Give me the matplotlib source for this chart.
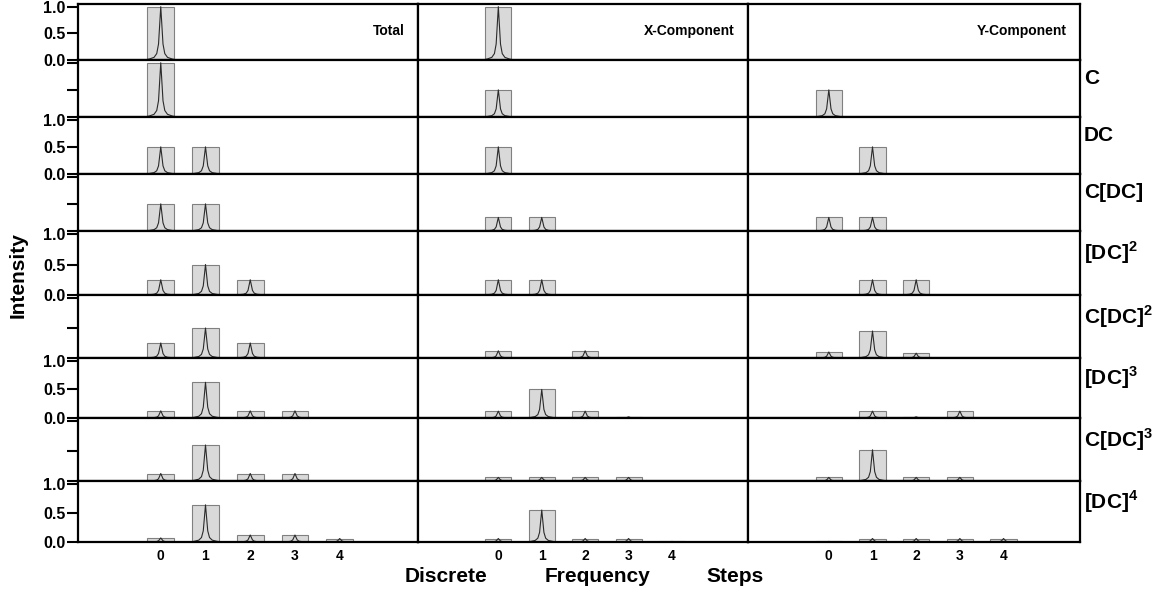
import matplotlib.pyplot as plt
import numpy as np

plt.rcParams['font.family'] = ['Liberation Sans', 'DejaVu Sans']
plt.rcParams['mathtext.fontset'] = 'custom'
plt.rcParams['mathtext.rm'] = 'Liberation Sans'
plt.rcParams['mathtext.bf'] = 'Liberation Sans:bold'

# ---- data ----
column_titles = ["Total", "X-Component", "Y-Component"]
row_labels = ["", "C", "DC", "C[DC]",
              r"[DC]$^\mathbf{2}$", r"C[DC]$^\mathbf{2}$",
              r"[DC]$^\mathbf{3}$", r"C[DC]$^\mathbf{3}$", r"[DC]$^\mathbf{4}$"]
steps = [0, 1, 2, 3, 4]

# intensity at each discrete frequency step (index = step)
total = [
    [1.0],
    [1.0],
    [0.5, 0.5],
    [0.5, 0.5],
    [0.25, 0.5, 0.25],
    [0.25, 0.5, 0.25],
    [0.125, 0.625, 0.125, 0.125],
    [0.125, 0.6, 0.125, 0.125],
    [0.07, 0.64, 0.12, 0.12, 0.06],
]
x_component = [
    [1.0],
    [0.5],
    [0.5],
    [0.25, 0.25],
    [0.25, 0.25],
    [0.12, 0.0, 0.12],
    [0.12, 0.5, 0.12, 0.02],
    [0.06, 0.06, 0.06, 0.06],
    [0.06, 0.55, 0.06, 0.06, 0.01],
]
y_component = [
    [],
    [0.5],
    [0.0, 0.5],
    [0.25, 0.25],
    [0.0, 0.25, 0.25],
    [0.1, 0.45, 0.08],
    [0.0, 0.12, 0.02, 0.12],
    [0.06, 0.52, 0.06, 0.06],
    [0.01, 0.06, 0.06, 0.06, 0.06],
]

# shape of one spectral peak (offset from step, fraction of height)
peak_offsets = [-0.35, -0.25, -0.15, -0.09, -0.05, -0.025, 0.0,
                0.025, 0.05, 0.09, 0.15, 0.25, 0.35]
peak_shape = [0.0, 0.02, 0.05, 0.12, 0.3, 0.65, 1.0,
              0.65, 0.3, 0.12, 0.05, 0.02, 0.0]

columns = [total, x_component, y_component]

# ---- layout (pixels) ----
W, H = 1163, 593
col_edges = [78, 418, 748, 1080]
row_edges = [4, 60, 117, 174, 231, 295, 358, 418, 481, 542]
n_rows = len(row_labels)

fig = plt.figure(figsize=(W / 100, H / 100), dpi=100)

offs = np.array(peak_offsets)
shape = np.array(peak_shape)

for r in range(n_rows):
    for c, data in enumerate(columns):
        left = col_edges[c] / W
        width = (col_edges[c + 1] - col_edges[c]) / W
        y0 = 1 - row_edges[r + 1] / H
        h = (row_edges[r + 1] - row_edges[r]) / H
        ax = fig.add_axes([left, y0, width, h])

        vals = data[r]
        xs = steps[:len(vals)]
        for x, v in zip(xs, vals):
            if v <= 0:
                continue
            ax.bar(x, v, width=0.6, color='#d9d9d9', edgecolor='#808080',
                   linewidth=0.8, zorder=1)
            ax.plot(x + offs, v * shape, color='#2b2b2b', linewidth=0.8, zorder=2)

        ax.set_xlim(-1.85, 5.75)
        ax.set_ylim(0, 1.05)
        for sp in ax.spines.values():
            sp.set_linewidth(1.6)
            sp.set_color('black')

        # y ticks only on the left column
        if c == 0:
            ax.set_yticks([0.0, 0.5, 1.0])
            ax.tick_params(axis='y', direction='out', length=8, width=1.5, pad=1)
            if r % 2 == 0:
                ax.set_yticklabels(['0.0', '0.5', '1.0'], fontsize=11.5, fontweight='bold')
            else:
                ax.set_yticklabels([])
        else:
            ax.set_yticks([])

        # x tick labels only on the bottom row
        ax.set_xticks(steps)
        ax.tick_params(axis='x', length=0, pad=5)
        if r == n_rows - 1:
            ax.set_xticklabels([str(s) for s in steps], fontsize=10, fontweight='bold')
        else:
            ax.set_xticklabels([])

        if r == 0:
            ax.text(0.96, 0.52, column_titles[c], transform=ax.transAxes,
                    ha='right', va='center', fontsize=10, fontweight='bold')

# row labels on the right
for r in range(1, n_rows):
    yc = (row_edges[r] + row_edges[r + 1]) / 2 - 10
    fig.text(1084 / W, 1 - yc / H, row_labels[r], ha='left', va='center',
             fontsize=15, fontweight='bold')

fig.text(18 / W, 1 - 275 / H, 'Intensity', rotation=90, ha='center', va='center',
         fontsize=15, fontweight='bold')
for word, xc in [('Discrete', 446), ('Frequency', 598), ('Steps', 735)]:
    fig.text(xc / W, 1 - 577 / H, word, ha='center', va='center',
             fontsize=15, fontweight='bold')

fig.savefig('out.png', dpi=100)
